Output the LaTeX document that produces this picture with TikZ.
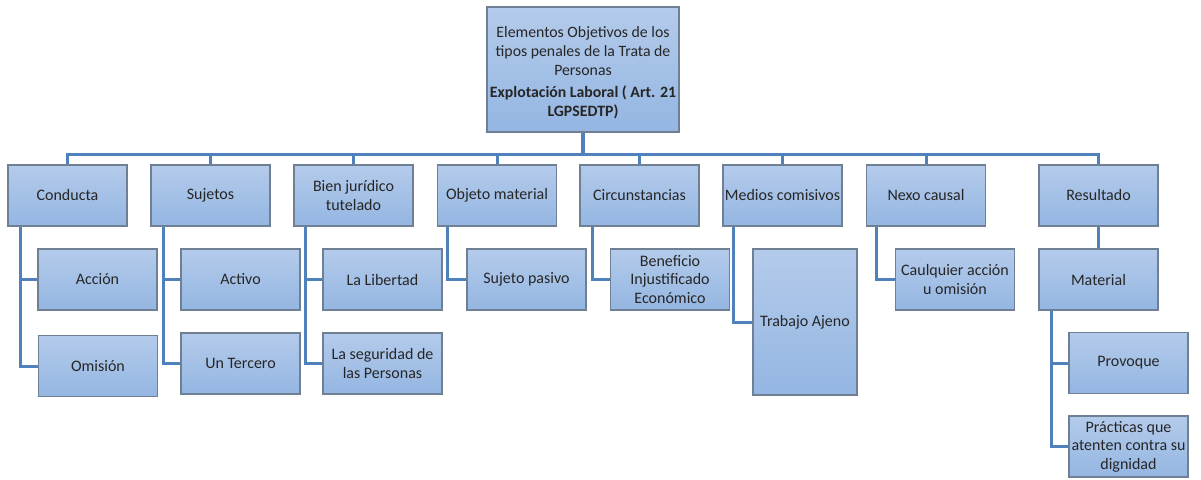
\documentclass[tikz,border=0pt]{standalone}
\usepackage{fontspec}
\setmainfont{Carlito}
\definecolor{boxtop}{RGB}{180,203,235}
\definecolor{boxbot}{RGB}{148,182,226}
\definecolor{boxline}{RGB}{112,128,148}
\definecolor{conn}{RGB}{79,129,189}
\begin{document}
\begin{tikzpicture}[x=1pt,y=1pt,
  box/.style={draw=boxline, line width=1.1pt, top color=boxtop, bottom color=boxbot,
    rectangle, minimum width=119pt, minimum height=61pt, inner xsep=0pt, inner ysep=0pt,
    align=center, font=\fontsize{16}{18.5}\selectfont, text=black!85},
  plain/.style={align=center, inner sep=0pt, text=black!85},
  link/.style={draw=conn, line width=3pt},
  trunk/.style={draw=conn, line width=4pt}]
\useasboundingbox (0,0) rectangle (1201,-479);

\node[box, minimum width=192pt, minimum height=125pt] (top) at (583,-69.5) {};
\node[plain, font=\fontsize{15.8}{18.7}\selectfont] (toptext) at (583,-73)
  {Elementos Objetivos de los\\tipos penales de la Trata de\\Personas\\[3.5pt]
   \textbf{Explotación Laboral ( Art. 21}\\[1pt]\textbf{LGPSEDTP)}};

\node[box] (conducta) at (67.5,-195.5) {Conducta};
\node[box] (sujetos) at (210.5,-195.5) {Sujetos};
\node[box] (bien) at (353.5,-195.5) {Bien jurídico\\tutelado};
\node[box] (objeto) at (497,-195.5) {Objeto material};
\node[box] (circ) at (639.5,-195.5) {Circunstancias};
\node[box] (medios) at (782.5,-195.5) {Medios comisivos};
\node[box] (nexo) at (926,-195.5) {Nexo causal};
\node[box] (resultado) at (1098.5,-195.5) {Resultado};

\node[box] (accion) at (97.5,-279.5) {Acción};
\node[box] (omision) at (98,-366) {Omisión};
\node[box] (activo) at (240.5,-279.5) {Activo};
\node[box] (tercero) at (240.5,-363.5) {Un Tercero};
\node[box] (libertad) at (382.5,-279.5) {La Libertad};
\node[box] (seguridad) at (382.5,-363.5) {La seguridad de\\las Personas};
\node[box] (pasivo) at (526.5,-279.5) {Sujeto pasivo};
\node[box] (beneficio) at (670,-279.5) {Beneficio\\Injustificado\\Económico};
\node[box, minimum width=104pt, minimum height=146pt] (trabajo) at (805,-322) {Trabajo Ajeno};
\node[box] (cualquier) at (955,-279.5) {Caulquier acción\\u omisión};
\node[box] (material) at (1098.5,-279.5) {Material};
\node[box] (provoque) at (1128.5,-363) {Provoque};
\node[box] (practicas) at (1128.5,-446.5) {Prácticas que\\atenten contra su\\dignidad};

\coordinate (bus) at (583,-154);
\draw[trunk] (top.south) -- (bus);
\draw[link] (conducta.north) |- (resultado.north |- bus) -- (resultado.north);
\foreach \n in {sujetos,bien,objeto,circ,medios,nexo}
  \draw[link] (\n.north) -- (\n.north |- bus);

\draw[link] ([xshift=13pt]conducta.south west) |- (accion.west);
\draw[link] ([xshift=13pt]conducta.south west) |- (omision.west);
\draw[link] ([xshift=13pt]sujetos.south west) |- (activo.west);
\draw[link] ([xshift=13pt]sujetos.south west) |- (tercero.west);
\draw[link] ([xshift=12pt]bien.south west) |- (libertad.west);
\draw[link] ([xshift=12pt]bien.south west) |- (seguridad.west);
\draw[link] ([xshift=11pt]objeto.south west) |- (pasivo.west);
\draw[link] ([xshift=13pt]circ.south west) |- (beneficio.west);
\draw[link] ([xshift=11pt]medios.south west) |- (trabajo.west);
\draw[link] ([xshift=11pt]nexo.south west) |- (cualquier.west);
\draw[link] (resultado.south) -- (material.north);
\draw[link] ([xshift=13pt]material.south west) |- (provoque.west);
\draw[link] ([xshift=13pt]material.south west) |- (practicas.west);
\end{tikzpicture}
\end{document}
